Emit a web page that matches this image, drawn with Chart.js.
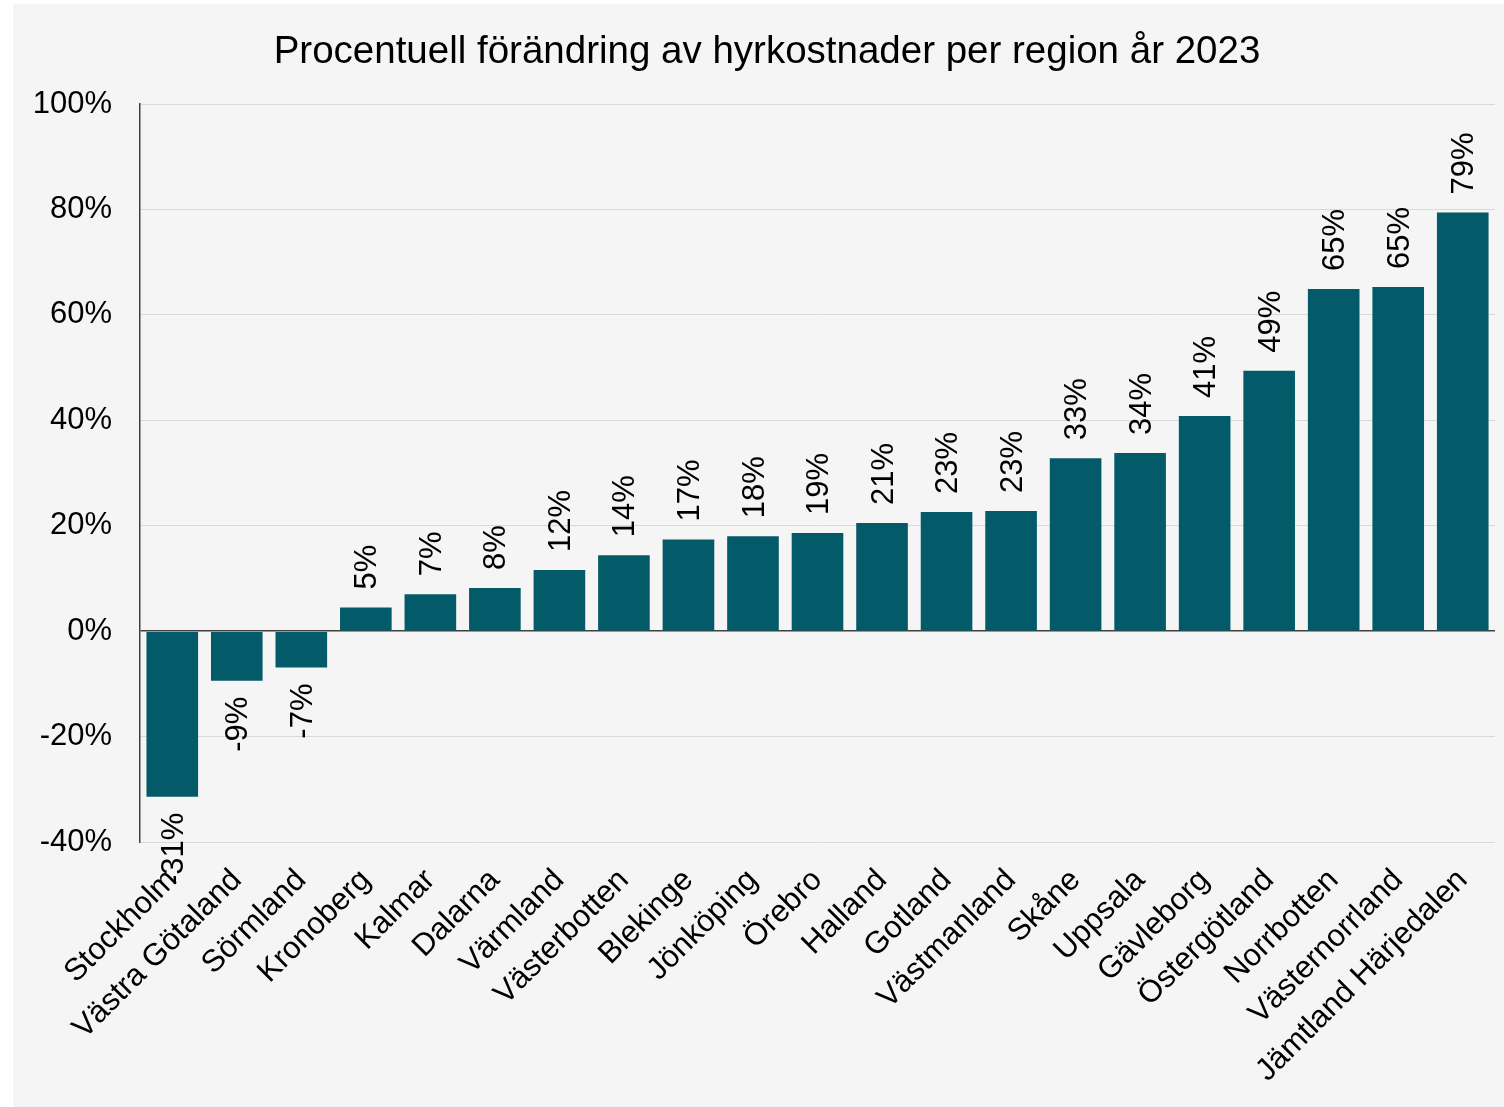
<!DOCTYPE html>
<html>
<head>
<meta charset="utf-8">
<script src="https://cdn.jsdelivr.net/npm/chart.js@4/dist/chart.umd.min.js"></script>
<style>
  body { margin: 0; background: #fff; }
  #wrap { position: absolute; left: 13px; top: 4px; width: 1491px; height: 1103px; background: #f5f5f5; }
</style>
</head>
<body>
<div id="wrap"><canvas id="rentChart" width="1491" height="1103"></canvas></div>
<script>
// Procentuell förändring av hyrkostnader per region år 2023
const regions = ['Stockholm', 'Västra Götaland', 'Sörmland', 'Kronoberg', 'Kalmar', 'Dalarna', 'Värmland',
    'Västerbotten', 'Blekinge', 'Jönköping', 'Örebro', 'Halland', 'Gotland', 'Västmanland', 'Skåne',
    'Uppsala', 'Gävleborg', 'Östergötland', 'Norrbotten', 'Västernorrland', 'Jämtland Härjedalen'];
const changePct = [-31.4, -9.4, -6.9, 4.5, 7.0, 8.2, 11.6, 14.4, 17.4, 18.0, 18.6, 20.5, 22.6, 22.8, 32.8,
    33.8, 40.8, 49.4, 64.9, 65.3, 79.4];
const yTicks = [-40, -20, 0, 20, 40, 60, 80, 100];

const FONT = 'Liberation Sans, Arial, sans-serif';
const BAR = '#035a68';

// rotated value labels above / below each bar
const barLabels = {
    id: 'barLabels',
    afterLayout(chart) {
        // title sits a little right of the canvas centre in the original
        if (chart.titleBlock) chart.titleBlock.left += 26;
    },
    afterDatasetsDraw(chart) {
        const { ctx } = chart;
        const meta = chart.getDatasetMeta(0);
        ctx.save();
        ctx.font = '31px ' + FONT;
        ctx.fillStyle = '#000';
        ctx.textBaseline = 'middle';
        meta.data.forEach((bar, i) => {
            const v = changePct[i];
            const txt = Math.round(v) + '%';
            ctx.save();
            if (v >= 0) {
                ctx.translate(bar.x + 2, bar.y - 18);
                ctx.rotate(-Math.PI / 2);
                ctx.textAlign = 'left';
            } else {
                ctx.translate(bar.x + 2, bar.y + 16);
                ctx.rotate(-Math.PI / 2);
                ctx.textAlign = 'right';
            }
            ctx.fillText(txt, 0, 0);
            ctx.restore();
        });
        ctx.restore();
    }
};

new Chart(document.getElementById('rentChart'), {
    type: 'bar',
    data: {
        labels: regions,
        datasets: [{ data: changePct, backgroundColor: BAR, borderWidth: 0,
            categoryPercentage: 1, barPercentage: 0.8 }]
    },
    options: {
        responsive: false, animation: false, devicePixelRatio: 1,
        layout: { padding: { left: 0, right: 9, top: 0, bottom: 0 } },
        plugins: {
            legend: { display: false }, tooltip: { enabled: false },
            title: { display: true, text: 'Procentuell förändring av hyrkostnader per region år 2023',
                color: '#000', font: { family: FONT, size: 38.5, weight: 'normal' },
                padding: { top: 25, bottom: 28.8 } }
        },
        scales: {
            y: {
                min: -40, max: 100,
                afterBuildTicks: s => { s.ticks = yTicks.map(v => ({ value: v })); },
                afterFit: s => { s.width = 127; },
                ticks: { color: '#000', padding: 28, font: { family: FONT, size: 31 }, callback: v => v + '%' },
                grid: { color: ctx => ctx.tick && ctx.tick.value === 0 ? '#404040' : '#d9d9d9',
                    lineWidth: ctx => ctx.tick && ctx.tick.value === 0 ? 1.5 : 1, drawTicks: false },
                border: { color: '#404040', width: 1.5 }
            },
            x: {
                afterFit: s => { s.height = 265; s.paddingLeft = 0; s.paddingRight = 0; },
                ticks: { color: '#000', autoSkip: false, minRotation: 45, maxRotation: 45, padding: 20,
                    font: { family: FONT, size: 31 } },
                grid: { display: false, drawTicks: false },
                border: { display: false }
            }
        }
    },
    plugins: [barLabels]
});
</script>
</body>
</html>
